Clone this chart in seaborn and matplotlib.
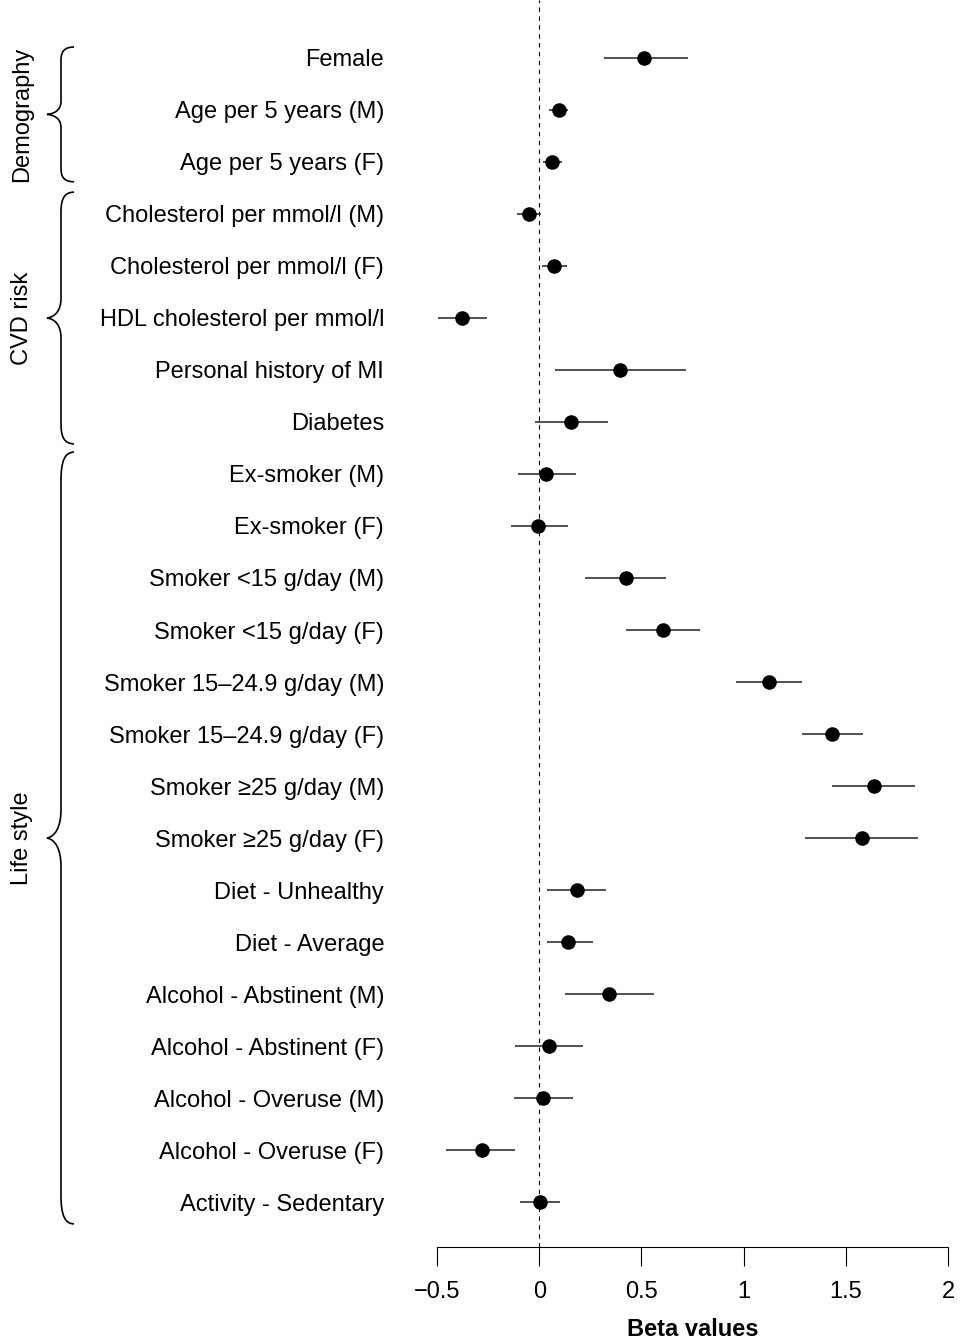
import numpy as np
import pandas as pd
import seaborn as sns
import matplotlib.pyplot as plt
from matplotlib.path import Path
import matplotlib.patches as mpatches
import matplotlib.transforms as mtransforms

labels = [
    "Female", "Age per 5 years (M)", "Age per 5 years (F)",
    "Cholesterol per mmol/l (M)", "Cholesterol per mmol/l (F)",
    "HDL cholesterol per mmol/l", "Personal history of MI", "Diabetes",
    "Ex-smoker (M)", "Ex-smoker (F)",
    "Smoker <15 g/day (M)", "Smoker <15 g/day (F)",
    "Smoker 15\u201324.9 g/day (M)", "Smoker 15\u201324.9 g/day (F)",
    "Smoker \u226525 g/day (M)", "Smoker \u226525 g/day (F)",
    "Diet - Unhealthy", "Diet - Average",
    "Alcohol - Abstinent (M)", "Alcohol - Abstinent (F)",
    "Alcohol - Overuse (M)", "Alcohol - Overuse (F)",
    "Activity - Sedentary",
]
beta = [0.515, 0.098, 0.065, -0.050, 0.070, -0.380, 0.393, 0.155,
        0.033, -0.005, 0.424, 0.605, 1.123, 1.431, 1.638, 1.580,
        0.186, 0.142, 0.342, 0.047, 0.021, -0.282, 0.003]
ci_low = [0.315, 0.049, 0.020, -0.109, 0.013, -0.497, 0.077, -0.020,
          -0.103, -0.140, 0.222, 0.427, 0.965, 1.285, 1.433, 1.301,
          0.037, 0.037, 0.124, -0.116, -0.122, -0.456, -0.093]
ci_high = [0.730, 0.142, 0.112, 0.011, 0.134, -0.253, 0.716, 0.339,
           0.178, 0.140, 0.621, 0.789, 1.286, 1.583, 1.839, 1.853,
           0.329, 0.262, 0.562, 0.214, 0.165, -0.117, 0.101]

# group name, first row, last row
groups = [("Demography", 0, 2), ("CVD risk", 3, 7), ("Life style", 8, 22)]

x_ticks = [-0.5, 0, 0.5, 1, 1.5, 2]
x_ticklabels = ["\u22120.5", "0", "0.5", "1", "1.5", "2"]

df = pd.DataFrame({"label": labels, "beta": beta, "lo": ci_low, "hi": ci_high})
df["row"] = np.arange(len(df))

sns.set_style("white")
plt.rcParams["font.family"] = ["Liberation Sans", "DejaVu Sans"]
plt.rcParams["text.color"] = "black"
plt.rcParams["axes.labelcolor"] = "black"
plt.rcParams["xtick.color"] = "black"
plt.rcParams["ytick.color"] = "black"

fig = plt.figure(figsize=(9.61, 13.44), dpi=100)
ax = fig.add_axes([437 / 961, 1 - 1247 / 1344, 511 / 961, 1247 / 1344])

ax.axvline(0, color="black", lw=0.8, ls=(0, (4, 4)), zorder=1)
ax.hlines(df["row"], df["lo"], df["hi"], color="#222222", lw=1.1, zorder=2)
sns.scatterplot(data=df, x="beta", y="row", color="black", s=110,
                edgecolor="black", linewidth=0, zorder=3, ax=ax, legend=False)

ax.set_xlim(-0.5, 2)
ax.set_ylim(22.865, -1.115)
ax.set_yticks(df["row"])
ax.set_yticklabels(labels, fontsize=17)
ax.tick_params(axis="y", length=0, pad=38)
ax.set_xticks(x_ticks)
ax.set_xticklabels(x_ticklabels, fontsize=17)
ax.tick_params(axis="x", direction="out", length=13.5, width=0.8, pad=11,
               bottom=True, color="black")
ax.set_xlabel("Beta values", fontsize=17, fontweight="bold", labelpad=11)
ax.set_ylabel("")
for s in ["left", "top", "right"]:
    ax.spines[s].set_visible(False)
ax.spines["bottom"].set_linewidth(0.8)
ax.spines["bottom"].set_color("black")

# curly braces for the groups
trans = mtransforms.blended_transform_factory(fig.transFigure, ax.transData)
x_end, x_mid, x_tip = 74 / 961, 61 / 961, 47 / 961
brace_r = {"Demography": 0.25, "CVD risk": 0.38, "Life style": 0.55}
for name, first, last in groups:
    top = first - 0.42 if first > 0 else first - 0.21
    bot = last + 0.42 if first > 0 else last + 0.38
    c = (top + bot) / 2
    d = x_mid - x_tip
    r = brace_r[name]
    verts = [
        (x_end, top),
        (x_mid + 0.3 * (x_end - x_mid), top), (x_mid, top + 0.3 * r), (x_mid, top + r),
        (x_mid, c - r),
        (x_mid, c - 0.35 * r), (x_mid - 0.45 * d, c - 0.05 * r), (x_tip, c),
        (x_mid - 0.45 * d, c + 0.05 * r), (x_mid, c + 0.35 * r), (x_mid, c + r),
        (x_mid, bot - r),
        (x_mid, bot - 0.3 * r), (x_mid + 0.3 * (x_end - x_mid), bot), (x_end, bot),
    ]
    codes = [Path.MOVETO,
             Path.CURVE4, Path.CURVE4, Path.CURVE4,
             Path.LINETO,
             Path.CURVE4, Path.CURVE4, Path.CURVE4,
             Path.CURVE4, Path.CURVE4, Path.CURVE4,
             Path.LINETO,
             Path.CURVE4, Path.CURVE4, Path.CURVE4]
    patch = mpatches.PathPatch(Path(verts, codes), transform=trans, fill=False,
                               lw=1.2, edgecolor="black", clip_on=False)
    fig.add_artist(patch)
    fig.text(22 / 961, c, name, transform=trans, rotation=90, fontsize=17,
             ha="center", va="center")

fig.savefig("out.png", dpi=100)
